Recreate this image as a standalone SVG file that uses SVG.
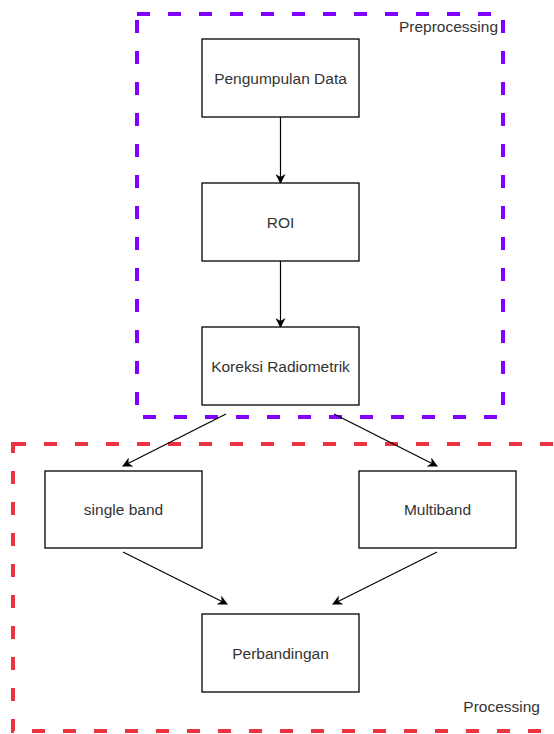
<svg xmlns="http://www.w3.org/2000/svg" width="554" height="734" viewBox="0 0 554 734">
<style>
.box{fill:#fff;stroke:#000;stroke-width:1.3}
.lbl{font-family:"Liberation Sans",Arial,sans-serif;font-size:15.5px;fill:#333;text-anchor:middle}
.grp{font-family:"Liberation Sans",Arial,sans-serif;font-size:15.5px;fill:#333;text-anchor:end}
.edge{stroke:#000;stroke-width:1.2;fill:none;marker-end:url(#arr)}
.dash{fill:none;stroke-width:4;stroke-dasharray:13 18}
</style>
<defs>
<marker id="arr" viewBox="0 0 10 10" refX="9" refY="5" markerWidth="10" markerHeight="10" markerUnits="userSpaceOnUse" orient="auto">
<path d="M0,0 L10,5 L0,10 L3,5 Z" fill="#000"/>
</marker>
</defs>
<rect width="554" height="734" fill="#fff"/>
<g id="preprocessing">
<rect class="dash" x="137" y="14" width="366" height="403" stroke="#7f00ff"/>
<text class="grp" x="498" y="32">Preprocessing</text>
</g>
<g id="processing">
<rect class="dash" x="13" y="444" width="570" height="287" stroke="#ec3340"/>
<text class="grp" x="540" y="712">Processing</text>
</g>
<g id="edges">
<line class="edge" x1="280.5" y1="117" x2="280.5" y2="183"/>
<line class="edge" x1="280.5" y1="261" x2="280.5" y2="327"/>
<line class="edge" x1="226" y1="414" x2="123" y2="466"/>
<line class="edge" x1="334" y1="414" x2="437" y2="466"/>
<line class="edge" x1="123" y1="552" x2="227" y2="604"/>
<line class="edge" x1="437" y1="552" x2="333" y2="604"/>
</g>
<g id="pengumpulan">
<rect class="box" x="202" y="39" width="157" height="78"/>
<text class="lbl" x="280.5" y="84">Pengumpulan Data</text>
</g>
<g id="roi">
<rect class="box" x="202" y="183" width="157" height="78"/>
<text class="lbl" x="280.5" y="228">ROI</text>
</g>
<g id="koreksi">
<rect class="box" x="202" y="327" width="157" height="78"/>
<text class="lbl" x="280.5" y="372">Koreksi Radiometrik</text>
</g>
<g id="single">
<rect class="box" x="45" y="471" width="157" height="77"/>
<text class="lbl" x="123.5" y="515">single band</text>
</g>
<g id="multi">
<rect class="box" x="359" y="471" width="157" height="77"/>
<text class="lbl" x="437.5" y="515">Multiband</text>
</g>
<g id="perbandingan">
<rect class="box" x="202" y="614" width="157" height="78"/>
<text class="lbl" x="280.5" y="659">Perbandingan</text>
</g>
</svg>
